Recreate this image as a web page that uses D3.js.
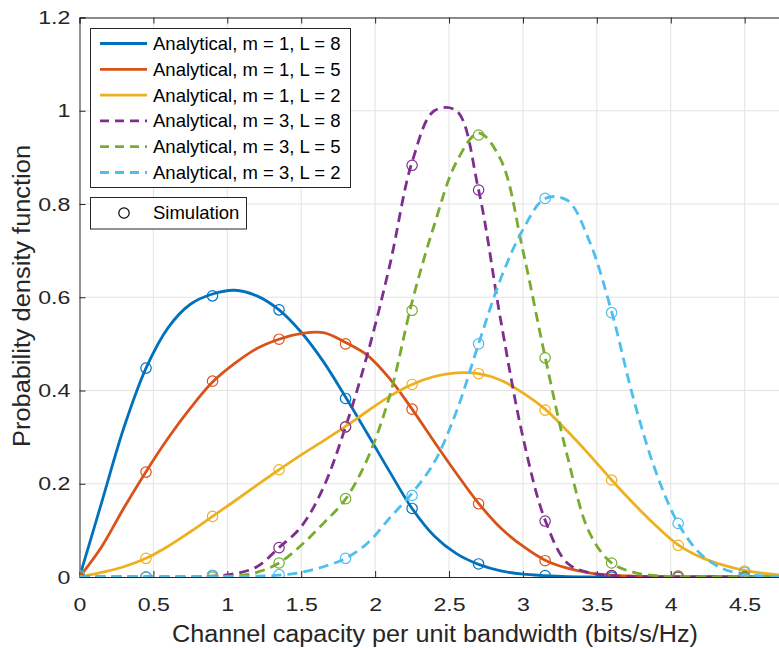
<!DOCTYPE html>
<html>
<head>
<meta charset="utf-8">
<script src="https://cdnjs.cloudflare.com/ajax/libs/d3/7.8.5/d3.min.js"></script>
<style>
  body { margin: 0; background: #fff; }
  svg { display: block; font-family: "Liberation Sans", Arial, sans-serif; }
  .grid line { stroke: #e3e3e3; stroke-width: 1; }
  .axis path, .axis line { stroke: #262626; }
  .axis text { fill: #262626; font-size: 19px; }
</style>
</head>
<body>
<svg id="chart" width="779" height="648"></svg>
<script>
// analytical curves on a 0.15 grid
let gridX = [0, 0.15, 0.3, 0.45, 0.6, 0.75, 0.9, 1.05, 1.2, 1.35, 1.5, 1.65, 1.8, 1.95, 2.1, 2.25,
  2.4, 2.55, 2.7, 2.85, 3.0, 3.15, 3.3, 3.45, 3.6, 3.75, 3.9, 4.05, 4.2, 4.35, 4.5, 4.65, 4.8]

let anM1L8 = [0, 0.16, 0.32, 0.448, 0.535, 0.585, 0.607, 0.615, 0.603, 0.573, 0.525, 0.462, 0.386, 0.306, 0.225, 0.147,
  0.088, 0.05, 0.027, 0.013, 0.006, 0.003, 0.001, 0, 0, 0, 0, 0, 0, 0, 0, 0, 0]
let anM1L5 = [0, 0.065, 0.148, 0.226, 0.298, 0.362, 0.418, 0.458, 0.49, 0.51, 0.522, 0.524, 0.503, 0.475, 0.425, 0.36,
  0.29, 0.222, 0.158, 0.105, 0.066, 0.036, 0.019, 0.009, 0.004, 0.002, 0.001, 0, 0, 0, 0, 0, 0]
let anM1L2 = [0, 0.01, 0.022, 0.04, 0.066, 0.097, 0.13, 0.163, 0.197, 0.23, 0.262, 0.292, 0.323, 0.356, 0.388, 0.413,
  0.43, 0.438, 0.436, 0.422, 0.395, 0.36, 0.313, 0.262, 0.208, 0.157, 0.11, 0.069, 0.043, 0.026, 0.014, 0.007, 0.003]
let anM3L8 = [0, 0, 0, 0, 0, 0, 0.002, 0.007, 0.022, 0.063, 0.108, 0.192, 0.322, 0.48, 0.67, 0.89,
  1.0, 1.0, 0.83, 0.55, 0.3, 0.122, 0.03, 0.009, 0.003, 0.001, 0, 0, 0, 0, 0, 0, 0]
let anM3L5 = [0, 0, 0, 0, 0, 0, 0, 0.002, 0.01, 0.03, 0.068, 0.115, 0.167, 0.255, 0.39, 0.59,
  0.755, 0.89, 0.952, 0.895, 0.7, 0.472, 0.26, 0.095, 0.03, 0.01, 0.003, 0.001, 0, 0, 0, 0, 0]
let anM3L2 = [0.001, 0.001, 0.001, 0.001, 0.001, 0.001, 0.001, 0.001, 0.002, 0.004, 0.01, 0.022, 0.04, 0.073, 0.127, 0.18,
  0.246, 0.355, 0.5, 0.64, 0.745, 0.812, 0.808, 0.72, 0.569, 0.38, 0.225, 0.115, 0.05, 0.018, 0.006, 0.002, 0.001]

// simulation points
let simX = [0, 0.45, 0.9, 1.35, 1.8, 2.25, 2.7, 3.15, 3.6, 4.05, 4.5]
let simM1L8 = [0, 0.448, 0.603, 0.573, 0.383, 0.147, 0.028, 0.003, 0, 0, 0]
let simM1L5 = [0, 0.225, 0.42, 0.51, 0.5, 0.36, 0.157, 0.035, 0.003, 0.002, 0.001]
let simM1L2 = [0, 0.04, 0.13, 0.23, 0.322, 0.413, 0.436, 0.358, 0.208, 0.068, 0.013]
let simM3L8 = [0, 0, 0.003, 0.063, 0.322, 0.883, 0.83, 0.12, 0.003, 0, 0]
let simM3L5 = [0, 0, 0, 0.03, 0.168, 0.572, 0.948, 0.47, 0.03, 0.001, 0]
let simM3L2 = [0.003, 0, 0.003, 0.005, 0.04, 0.175, 0.5, 0.812, 0.567, 0.115, 0.01]

let seriesNames = ['Analytical, m = 1, L = 8', 'Analytical, m = 1, L = 5', 'Analytical, m = 1, L = 2',
  'Analytical, m = 3, L = 8', 'Analytical, m = 3, L = 5', 'Analytical, m = 3, L = 2']
let colors = ['#0072BD', '#D95319', '#EDB120', '#7E2F8E', '#77AC30', '#4DBEEE']
let dashed = [false, false, false, true, true, true]
let anValues = [anM1L8, anM1L5, anM1L2, anM3L8, anM3L5, anM3L2]
let simValues = [simM1L8, simM1L5, simM1L2, simM3L8, simM3L5, simM3L2]

let xTicks = [0, 0.5, 1, 1.5, 2, 2.5, 3, 3.5, 4, 4.5]
let yTicks = [0, 0.2, 0.4, 0.6, 0.8, 1, 1.2]

let m = {top: 17.5, left: 79.5, bottom: 577, right: 789}

let xScale = d3.scaleLinear().domain([0, 4.8]).range([m.left, m.right])
let yScale = d3.scaleLinear().domain([0, 1.2]).range([m.bottom, m.top])

let svg = d3.select('#chart')

svg.append('defs').append('clipPath').attr('id', 'plotclip')
  .append('rect')
  .attr('x', m.left).attr('y', m.top)
  .attr('width', m.right - m.left).attr('height', m.bottom - m.top)

// grid
let grid = svg.append('g').attr('class', 'grid')
grid.selectAll('.gx').data(xTicks.slice(1)).enter().append('line')
  .attr('x1', d => xScale(d)).attr('x2', d => xScale(d))
  .attr('y1', m.top).attr('y2', m.bottom)
grid.selectAll('.gy').data(yTicks.slice(1)).enter().append('line')
  .attr('x1', m.left).attr('x2', m.right)
  .attr('y1', d => yScale(d)).attr('y2', d => yScale(d))

// axes (MATLAB style ticks point inward)
let xAxisG = svg.append('g')
  .attr('class', 'axis')
  .attr('transform', `translate(0, ${m.bottom})`)
  .call(d3.axisBottom(xScale).tickValues(xTicks).tickFormat(d3.format('')).tickSize(-6).tickPadding(21))
svg.append('g')
  .attr('class', 'axis')
  .attr('transform', `translate(0, ${m.top})`)
  .call(d3.axisTop(xScale).tickValues(xTicks).tickFormat('').tickSize(-6))
let yAxisG = svg.append('g')
  .attr('class', 'axis')
  .attr('transform', `translate(${m.left}, 0)`)
  .call(d3.axisLeft(yScale).tickValues(yTicks).tickFormat(d3.format('')).tickSize(-6).tickPadding(7.5))
svg.selectAll('.axis .domain').attr('stroke-width', 1)
// the original tick font is drawn a bit wider than Arial
xAxisG.selectAll('text').attr('transform', 'scale(1.22,1)')
yAxisG.selectAll('text').attr('transform', 'scale(1.22,1)')

// curves
let plot = svg.append('g').attr('clip-path', 'url(#plotclip)')
let line = d3.line()
  .x(d => xScale(d[0]))
  .y(d => yScale(d[1]))
  .curve(d3.curveCatmullRom.alpha(0.5))

anValues.forEach(function(vals, i) {
  plot.append('path')
    .datum(gridX.map((x, j) => [x, vals[j]]))
    .attr('fill', 'none')
    .attr('stroke', colors[i])
    .attr('stroke-width', 2.8)
    .attr('stroke-dasharray', dashed[i] ? '10,6' : null)
    .attr('d', line)
})

simValues.forEach(function(vals, i) {
  plot.selectAll('.sim' + i)
    .data(simX.map((x, j) => [x, vals[j]]))
    .enter().append('circle')
    .attr('cx', d => xScale(d[0]))
    .attr('cy', d => yScale(d[1]))
    .attr('r', 5.2)
    .attr('fill', 'none')
    .attr('stroke', colors[i])
    .attr('stroke-width', 1.2)
})

// axis labels
svg.append('text')
  .attr('x', 435).attr('y', 642)
  .attr('text-anchor', 'middle')
  .attr('textLength', 526).attr('lengthAdjust', 'spacingAndGlyphs')
  .style('font-size', '23.5px').style('fill', '#262626')
  .text('Channel capacity per unit bandwidth (bits/s/Hz)')
svg.append('text')
  .attr('transform', 'translate(29.5, 296) rotate(-90)')
  .attr('text-anchor', 'middle')
  .attr('textLength', 302).attr('lengthAdjust', 'spacingAndGlyphs')
  .style('font-size', '23.5px').style('fill', '#262626')
  .text('Probability density function')

// legend for analytical curves
let leg = svg.append('g')
leg.append('rect')
  .attr('x', 90.5).attr('y', 28.5).attr('width', 260).attr('height', 159)
  .attr('fill', '#fff').attr('stroke', '#262626').attr('stroke-width', 1)
seriesNames.forEach(function(name, i) {
  let cy = 43.5 + i * 25.8
  leg.append('line')
    .attr('x1', 100).attr('x2', 147).attr('y1', cy).attr('y2', cy)
    .attr('stroke', colors[i]).attr('stroke-width', 2.8)
    .attr('stroke-dasharray', dashed[i] ? '9,6' : null)
  leg.append('text')
    .attr('x', 153).attr('y', cy).attr('dy', '0.35em')
    .style('font-size', '18.5px').style('fill', '#000')
    .text(name)
})

// legend for simulation
let leg2 = svg.append('g')
leg2.append('rect')
  .attr('x', 90.5).attr('y', 197.5).attr('width', 156).attr('height', 31.5)
  .attr('fill', '#fff').attr('stroke', '#262626').attr('stroke-width', 1)
leg2.append('circle')
  .attr('cx', 124).attr('cy', 213).attr('r', 5.2)
  .attr('fill', 'none').attr('stroke', '#000').attr('stroke-width', 1.2)
leg2.append('text')
  .attr('x', 153).attr('y', 213).attr('dy', '0.35em')
  .style('font-size', '18.5px').style('fill', '#000')
  .text('Simulation')
</script>
</body>
</html>
